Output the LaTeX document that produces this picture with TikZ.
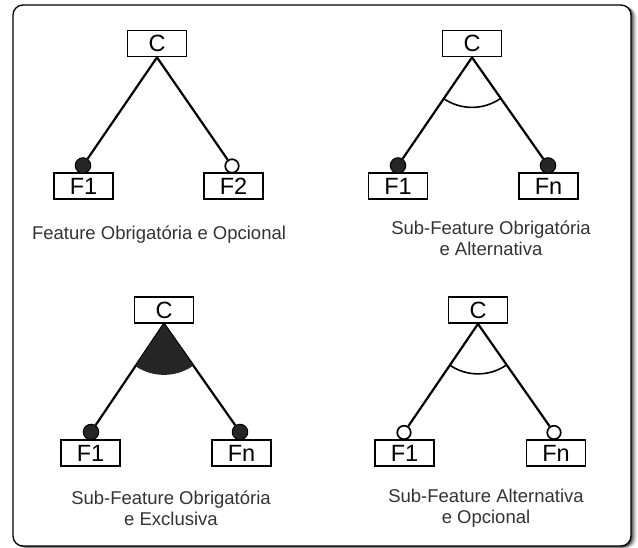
\documentclass[tikz,border=0pt]{standalone}
\usepackage{fontspec}
\setmainfont{Liberation Sans}
\usetikzlibrary{calc}
\begin{document}
\begin{tikzpicture}[x=1pt,y=-1pt,
  fbox/.style={draw=black,line width=1.8pt,fill=white,minimum width=59pt,minimum height=26pt,inner sep=0pt,font=\fontsize{23.5}{23.5}\selectfont},
  link/.style={line width=2.2pt,black},
  mand/.style={circle,fill=black!85,draw=black,line width=1pt,minimum size=15.5pt,inner sep=0pt},
  opt/.style={circle,fill=white,draw=black,line width=1.7pt,minimum size=13.5pt,inner sep=0pt},
  caption/.style={align=center,text=black!80,font=\fontsize{18.5}{21}\selectfont},
  grp/.style={line width=1.6pt,black}]
\useasboundingbox (0,0) rectangle (638,548);
% frame shadow
\foreach \d/\g in {6/8,5/15,4/25,3/40,2/55,1/70}{
  \fill[black!\g,rounded corners=10pt] (13+\d,5+\d*0.4) rectangle (631+\d,547+\d*0.2);
}
\draw[fill=white,line width=1.3pt,rounded corners=10pt] (13,5) rectangle (631,546);

% ---- Feature Obrigatoria e Opcional ----
\node[fbox] (c1) at (157,43.5) {C};
\node[fbox] (a1) at (83.5,186) {F1};
\node[fbox] (b1) at (233.5,186) {F2};
\node[mand] (ma1) at (83,165.5) {};
\node[opt] (ob1) at (232,166) {};
\draw[link] (c1.south) -- (ma1);
\draw[link] (c1.south) -- (ob1);
\node[caption] (t1) at (159,235) {Feature Obrigatória e Opcional};

% ---- Sub-Feature Obrigatoria e Alternativa ----
\node[fbox] (c2) at (472,43.5) {C};
\node[fbox] (a2) at (398,186) {F1};
\node[fbox] (b2) at (548.5,186) {Fn};
\node[mand] (ma2) at (398,165.5) {};
\node[mand] (mb2) at (548,165.5) {};
\draw[link] (c2.south) -- (ma2);
\draw[link] (c2.south) -- (mb2);
\begin{scope}
  \clip (c2.south) -- (ma2.center) -- (mb2.center) -- cycle;
  \draw[grp] (c2.south) circle (50pt);
\end{scope}
\node[caption] (t2) at (491,238.5) {Sub-Feature Obrigatória\\e Alternativa};

% ---- Sub-Feature Obrigatoria e Exclusiva ----
\node[fbox] (c3) at (164,310) {C};
\node[fbox] (a3) at (90.5,453) {F1};
\node[fbox] (b3) at (241.5,453) {Fn};
\node[mand] (ma3) at (91,432) {};
\node[mand] (mb3) at (240,432) {};
\draw[link] (c3.south) -- (ma3);
\draw[link] (c3.south) -- (mb3);
\begin{scope}
  \clip (c3.south) -- (ma3.center) -- (mb3.center) -- cycle;
  \fill[black!85] (c3.south) circle (51pt);
\end{scope}
\node[caption] (t3) at (171,508) {Sub-Feature Obrigatória\\e Exclusiva};

% ---- Sub-Feature Alternativa e Opcional ----
\node[fbox] (c4) at (478,310) {C};
\node[fbox] (a4) at (404.5,453) {F1};
\node[fbox] (b4) at (556,453) {Fn};
\node[opt] (oa4) at (404,432.5) {};
\node[opt] (ob4) at (554,432.5) {};
\draw[link] (c4.south) -- (oa4);
\draw[link] (c4.south) -- (ob4);
\begin{scope}
  \clip (c4.south) -- (oa4.center) -- (ob4.center) -- cycle;
  \draw[grp] (c4.south) circle (50pt);
\end{scope}
\node[caption] (t4) at (486,508) {Sub-Feature Alternativa\\e Opcional};
\end{tikzpicture}
\end{document}
